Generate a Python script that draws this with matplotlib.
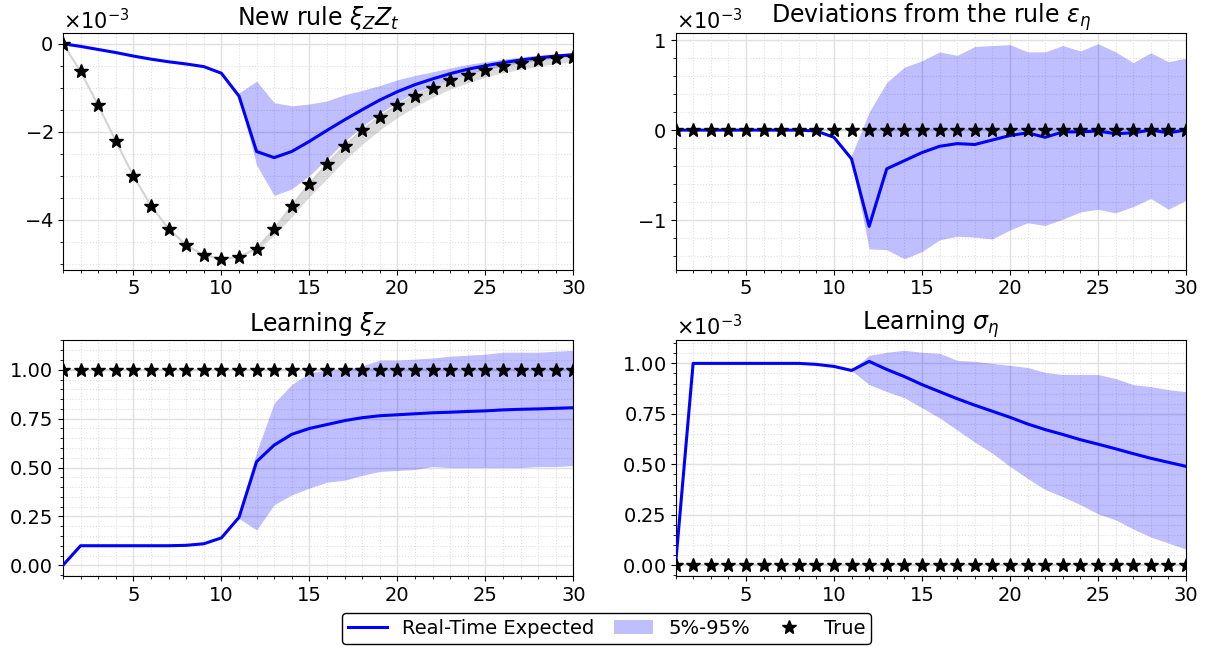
import numpy as np
import matplotlib
matplotlib.use("Agg")
import matplotlib.pyplot as plt
from matplotlib import rcParams
from matplotlib.ticker import MultipleLocator, AutoMinorLocator

rcParams.update(
    {
        "font.family": "DejaVu Sans",
        "font.size": 14,
        "axes.titlesize": 17,
        "xtick.labelsize": 14,
        "ytick.labelsize": 14,
        "legend.fontsize": 14,
    }
)

periods = list(range(1, 31))
band_x = list(range(11, 31))
gray_x = list(range(12, 31))

# --- New rule xi_Z Z_t (units of 1e-3) ---
rule_true = [0.0, -0.63, -1.40, -2.21, -3.01, -3.68, -4.21, -4.58, -4.81, -4.89,
             -4.85, -4.66, -4.21, -3.68, -3.18, -2.74, -2.32, -1.97, -1.66, -1.40,
             -1.18, -1.00, -0.83, -0.71, -0.60, -0.51, -0.44, -0.38, -0.33, -0.30]
rule_exp = [0.0, -0.06, -0.13, -0.20, -0.28, -0.35, -0.41, -0.46, -0.52, -0.67,
            -1.19, -2.45, -2.59, -2.45, -2.22, -1.97, -1.73, -1.50, -1.28, -1.09,
            -0.93, -0.80, -0.68, -0.58, -0.50, -0.43, -0.37, -0.32, -0.28, -0.25]
rule_lo = [-1.20, -2.76, -3.45, -3.30, -3.00, -2.62, -2.22, -1.88, -1.58, -1.33,
           -1.12, -0.95, -0.80, -0.68, -0.58, -0.50, -0.43, -0.37, -0.32, -0.28]
rule_hi = [-1.12, -0.85, -1.34, -1.41, -1.37, -1.30, -1.16, -1.06, -0.95, -0.82,
           -0.72, -0.64, -0.55, -0.47, -0.41, -0.35, -0.30, -0.26, -0.23, -0.20]
rule_gray_lo = [-4.70, -4.36, -3.93, -3.48, -3.07, -2.65, -2.29, -1.96, -1.68, -1.43,
                -1.22, -1.03, -0.89, -0.76, -0.66, -0.58, -0.51, -0.45, -0.42]
rule_gray_hi = [-4.64, -4.19, -3.66, -3.16, -2.72, -2.30, -1.95, -1.64, -1.37, -1.15,
                -0.97, -0.80, -0.68, -0.57, -0.48, -0.41, -0.35, -0.30, -0.26]

# --- Deviations from the rule eps_eta (units of 1e-3) ---
dev_true = [0.0] * 30
dev_exp = [0.0, 0.0, 0.0, 0.0, 0.0, 0.0, 0.0, 0.0, -0.01, -0.08,
           -0.32, -1.07, -0.43, -0.34, -0.25, -0.18, -0.15, -0.16, -0.11, -0.06,
           -0.03, -0.08, -0.02, -0.02, -0.01, -0.04, -0.03, 0.0, -0.03, 0.0]
dev_lo = [-0.33, -1.32, -1.33, -1.43, -1.35, -1.22, -1.18, -1.19, -1.21, -1.11,
          -1.03, -1.06, -0.99, -0.91, -0.88, -0.92, -0.85, -0.76, -0.88, -0.78]
dev_hi = [-0.28, 0.20, 0.53, 0.70, 0.77, 0.87, 0.83, 0.93, 0.94, 0.95,
          0.87, 0.87, 0.94, 0.88, 0.96, 0.87, 0.75, 0.86, 0.76, 0.80]

# --- Learning xi_Z ---
xi_true = [1.0] * 30
xi_exp = [0.0, 0.10, 0.10, 0.10, 0.10, 0.10, 0.10, 0.102, 0.11, 0.14,
          0.245, 0.53, 0.615, 0.67, 0.70, 0.72, 0.74, 0.755, 0.765, 0.77,
          0.775, 0.78, 0.783, 0.787, 0.79, 0.795, 0.798, 0.80, 0.803, 0.806]
xi_lo = [0.24, 0.18, 0.31, 0.36, 0.395, 0.425, 0.435, 0.46, 0.48, 0.485,
         0.49, 0.505, 0.50, 0.50, 0.50, 0.50, 0.50, 0.505, 0.505, 0.51]
xi_hi = [0.25, 0.58, 0.83, 0.925, 0.985, 0.998, 1.00, 1.02, 1.05, 1.05,
         1.055, 1.06, 1.07, 1.075, 1.08, 1.09, 1.09, 1.09, 1.095, 1.10]

# --- Learning sigma_eta (units of 1e-3) ---
sig_true = [0.0] * 30
sig_exp = [0.0, 1.0, 1.0, 1.0, 1.0, 1.0, 1.0, 1.0, 0.995, 0.985,
           0.965, 1.01, 0.97, 0.935, 0.895, 0.86, 0.825, 0.793, 0.763, 0.733,
           0.70, 0.672, 0.648, 0.622, 0.60, 0.577, 0.553, 0.53, 0.51, 0.49]
sig_lo = [0.965, 0.895, 0.86, 0.83, 0.78, 0.73, 0.67, 0.61, 0.555, 0.49,
          0.43, 0.375, 0.34, 0.30, 0.255, 0.225, 0.18, 0.14, 0.11, 0.08]
sig_hi = [0.965, 1.04, 1.055, 1.065, 1.055, 1.05, 1.015, 1.01, 1.0, 0.99,
          0.98, 0.955, 0.945, 0.945, 0.945, 0.925, 0.895, 0.885, 0.87, 0.86]

# title, true, expected, 5%, 95%, scale, major y step (in data units)
panels = [
    ("New rule $\\xi_Z Z_t$", rule_true, rule_exp, rule_lo, rule_hi, 1e-3, 2e-3),
    ("Deviations from the rule $\\varepsilon_\\eta$", dev_true, dev_exp, dev_lo, dev_hi, 1e-3, 1e-3),
    ("Learning $\\xi_Z$", xi_true, xi_exp, xi_lo, xi_hi, 1.0, 0.25),
    ("Learning $\\sigma_\\eta$", sig_true, sig_exp, sig_lo, sig_hi, 1e-3, 0.25e-3),
]


def main():
    fig, axes = plt.subplots(2, 2, figsize=(12.06, 6.47), dpi=100)
    fig.subplots_adjust(left=0.0522, right=0.9834, bottom=0.1097, top=0.949,
                        wspace=0.2, hspace=0.296)
    axes = axes.flatten()

    for i, (ax, (title, true, exp, lo, hi, scale, ystep)) in enumerate(zip(axes, panels)):
        t = np.array(true) * scale
        e = np.array(exp) * scale
        l = np.array(lo) * scale
        h = np.array(hi) * scale

        if i == 0:
            ax.fill_between(gray_x, np.array(rule_gray_lo) * scale, np.array(rule_gray_hi) * scale,
                            color="gray", alpha=0.28, lw=0)
        ax.plot(periods, t, color="lightgray", lw=1.5, zorder=1)
        ax.fill_between(band_x, l, h, color="blue", alpha=0.25, lw=0, label="5%-95%")
        ax.plot(periods, e, color="blue", lw=2.2, label="Real-Time Expected", zorder=3)
        ax.plot(periods, t, ls="none", marker="*", ms=10, color="black", label="True", zorder=4)

        ax.set_title(title)
        ax.set_xlim(1, 30)
        ax.xaxis.set_major_locator(MultipleLocator(5))
        ax.yaxis.set_major_locator(MultipleLocator(ystep))
        ax.xaxis.set_minor_locator(AutoMinorLocator())
        ax.yaxis.set_minor_locator(AutoMinorLocator())
        ax.grid(True, which="major", color="0.88", lw=1.0)
        ax.grid(True, which="minor", color="0.88", lw=0.8, ls=":")
        ax.set_axisbelow(True)
        if scale != 1.0:
            ax.ticklabel_format(axis="y", style="sci", scilimits=(0, 0), useMathText=True)
            ax.yaxis.get_offset_text().set_fontsize(15)

    handles, labels = axes[0].get_legend_handles_labels()
    order = [labels.index("Real-Time Expected"), labels.index("5%-95%"), labels.index("True")]
    leg = fig.legend([handles[k] for k in order], [labels[k] for k in order],
                     loc="center", bbox_to_anchor=(0.503, 0.0286), ncol=3,
                     frameon=True, edgecolor="black", fancybox=True, framealpha=1,
                     columnspacing=1.0, borderpad=0.3)
    leg.get_frame().set_linewidth(1.0)

    fig.savefig("out.png", dpi=100)
    plt.close(fig)


if __name__ == "__main__":
    main()
